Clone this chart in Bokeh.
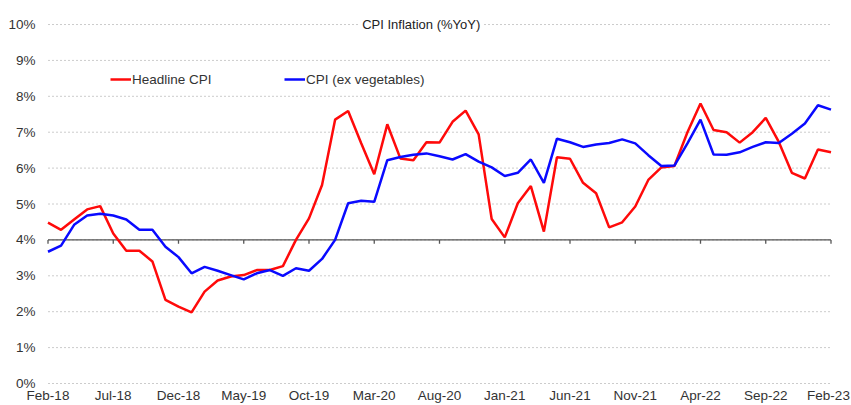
import pandas as pd
from bokeh.plotting import figure
from bokeh.models import (Range1d, Legend, LegendItem, Label,
                          LabelSet, ColumnDataSource)
from bokeh.core.properties import value
from bokeh.embed import file_html
from bokeh.resources import INLINE

# ---------------- data ----------------
months = [d.strftime("%b-%y") for d in pd.date_range("2018-02-01", "2023-02-01", freq="MS")]

headline_cpi = [4.48, 4.28, 4.57, 4.85, 4.94, 4.18, 3.70, 3.70, 3.40, 2.33,
                2.14, 1.98, 2.56, 2.87, 2.98, 3.02, 3.16, 3.16, 3.27, 4.00,
                4.60, 5.53, 7.35, 7.59, 6.69, 5.83, 7.22, 6.27, 6.22, 6.72,
                6.71, 7.29, 7.60, 6.94, 4.58, 4.07, 5.02, 5.50, 4.23, 6.30,
                6.26, 5.59, 5.30, 4.35, 4.49, 4.93, 5.67, 6.02, 6.06, 7.00,
                7.80, 7.06, 7.00, 6.71, 7.00, 7.40, 6.73, 5.87, 5.71, 6.52,
                6.44]

cpi_ex_veg = [3.67, 3.84, 4.42, 4.68, 4.73, 4.68, 4.57, 4.28, 4.28, 3.81,
              3.52, 3.07, 3.25, 3.14, 3.02, 2.90, 3.07, 3.16, 3.00, 3.21,
              3.14, 3.47, 4.00, 5.02, 5.09, 5.06, 6.22, 6.31, 6.37, 6.41,
              6.33, 6.24, 6.39, 6.18, 6.02, 5.78, 5.87, 6.24, 5.59, 6.82,
              6.72, 6.59, 6.66, 6.70, 6.80, 6.69, 6.36, 6.06, 6.07, 6.69,
              7.35, 6.38, 6.37, 6.44, 6.59, 6.72, 6.70, 6.96, 7.24, 7.75,
              7.63]

x_tick_labels = ["Feb-18", "Jul-18", "Dec-18", "May-19", "Oct-19", "Mar-20",
                 "Aug-20", "Jan-21", "Jun-21", "Nov-21", "Apr-22", "Sep-22",
                 "Feb-23"]
y_ticks = [0, 1, 2, 3, 4, 5, 6, 7, 8, 9, 10]
y_tick_labels = ["0%", "1%", "2%", "3%", "4%", "5%", "6%", "7%", "8%", "9%", "10%"]
axis_cross = 4
title_text = "CPI Inflation (%YoY)"

# ---------------- figure ----------------
idx = list(range(len(months)))
tick_idx = [months.index(m) for m in x_tick_labels]
x_first, x_last = idx[0], idx[-1]

FONT = "Liberation Sans"
TXT = "#333333"

p = figure(width=851, height=405, output_backend="svg", toolbar_location=None,
           x_range=Range1d(x_first - 3.640, x_last + 1.571),
           y_range=Range1d(-0.613, 10.669),
           x_axis_location=None, y_axis_location=None,
           min_border_left=0, min_border_right=0,
           min_border_top=0, min_border_bottom=0)
p.outline_line_color = None
p.background_fill_color = "white"
p.border_fill_color = "white"
p.xgrid.visible = False
p.ygrid.visible = False

# dashed horizontal gridlines over the data span
p.segment(x0=[x_first] * len(y_ticks), y0=y_ticks, x1=[x_last] * len(y_ticks), y1=y_ticks,
          line_color="#cccccc", line_dash="2 2", line_width=1)

# y tick labels
ylab_src = ColumnDataSource(dict(x=[x_first] * len(y_ticks), y=y_ticks, text=y_tick_labels))
p.add_layout(LabelSet(x="x", y="y", text="text", source=ylab_src, x_offset=-12.5,
                      text_align="right", text_baseline="middle",
                      text_font=value(FONT), text_font_size="13.5px", text_color=TXT))

# horizontal axis crossing at 4%
p.segment(x0=[x_first], y0=[axis_cross], x1=[x_last], y1=[axis_cross],
          line_color="#555555", line_width=1.3)
p.segment(x0=tick_idx, y0=[axis_cross] * len(tick_idx), x1=tick_idx,
          y1=[axis_cross - 0.11] * len(tick_idx), line_color="#555555", line_width=1.3)

# bottom month labels (last one nudged left so it stays inside the canvas)
offs = [0] * (len(tick_idx) - 1) + [-2.5]
lab_src = ColumnDataSource(dict(x=tick_idx, y=[-0.47] * len(tick_idx),
                                text=x_tick_labels, dx=offs))
p.add_layout(LabelSet(x="x", y="y", text="text", source=lab_src, x_offset="dx",
                      text_align="center", text_baseline="alphabetic",
                      text_font=value(FONT), text_font_size="13.5px", text_color=TXT))

src = ColumnDataSource(dict(x=idx, headline=headline_cpi, exveg=cpi_ex_veg))
r_head = p.line("x", "headline", source=src, line_color="#ff0a0a", line_width=2.5)
r_ex = p.line("x", "exveg", source=src, line_color="#0a0aff", line_width=2.5)

# legends (two separate single-item legends to match positions)
for r, lab, loc in [(r_head, "Headline CPI", (110, 316)),
                    (r_ex, "CPI (ex vegetables)", (284, 316))]:
    lg = Legend(items=[LegendItem(label=lab, renderers=[r])], location=loc,
                orientation="horizontal", padding=0, margin=0,
                border_line_color=None, background_fill_alpha=0,
                glyph_width=21, glyph_height=20, label_standoff=1,
                label_text_font=FONT, label_text_font_size="13.5px",
                label_text_color=TXT, label_height=20)
    p.add_layout(lg, "center")

# title
p.add_layout(Label(x=28.6, y=10.0, text=title_text, text_align="center",
                   text_baseline="alphabetic", text_font=FONT,
                   text_font_size="13px", text_color="#222222",
                   background_fill_color="white", padding=3))

open("out.html", "w").write(file_html(p, INLINE))
